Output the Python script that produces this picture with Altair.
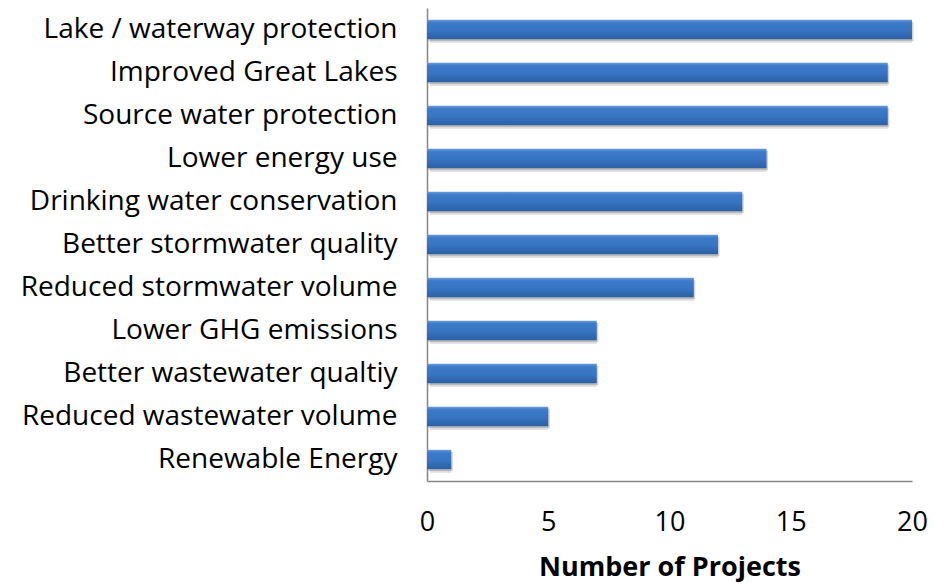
import altair as alt
import pandas as pd

# Project benefits and how many projects reported each
benefits = [
    "Lake / waterway protection",
    "Improved Great Lakes",
    "Source water protection",
    "Lower energy use",
    "Drinking water conservation",
    "Better stormwater quality",
    "Reduced stormwater volume",
    "Lower GHG emissions",
    "Better wastewater qualtiy",
    "Reduced wastewater volume",
    "Renewable Energy",
]
projects = [20, 19, 19, 14, 13, 12, 11, 7, 7, 5, 1]
x_ticks = [0, 5, 10, 15, 20]

df = pd.DataFrame({"benefit": benefits, "projects": projects})

FONT = "Open Sans"

y_enc = alt.Y(
    "benefit:N",
    sort=benefits,
    title=None,
    scale=alt.Scale(paddingInner=0.55, paddingOuter=0.275),
    axis=alt.Axis(
        labelFont=FONT,
        labelFontSize=28,
        labelColor="#000000",
        labelPadding=30,
        labelLimit=500,
        ticks=False,
        domainColor="#868686",
        domainWidth=1.5,
        grid=False,
    ),
)

x_enc = alt.X(
    "projects:Q",
    scale=alt.Scale(domain=[0, 20], nice=False),
    title="Number of Projects",
    axis=alt.Axis(
        values=x_ticks,
        labelFont=FONT,
        labelFontSize=27,
        labelColor="#000000",
        labelPadding=28,
        labelFlush=False,
        ticks=False,
        grid=False,
        domainColor="#868686",
        domainWidth=1.5,
        titleFont=FONT,
        titleFontSize=27,
        titleFontWeight="bold",
        titleColor="#000000",
        titlePadding=19,
    ),
)

# soft drop shadow under each bar
shadow_far = alt.Chart(df).mark_bar(
    color="#000000", opacity=0.10, xOffset=3, yOffset=4, cornerRadius=1
).encode(x=x_enc, y=y_enc)
shadow_near = alt.Chart(df).mark_bar(
    color="#000000", opacity=0.18, xOffset=1.5, yOffset=2
).encode(x=x_enc, y=y_enc)

bar_fill = alt.LinearGradient(
    gradient="linear",
    x1=0, x2=0, y1=0, y2=1,
    stops=[
        alt.GradientStop(color="#6a9bd9", offset=0.0),
        alt.GradientStop(color="#3d7bca", offset=0.15),
        alt.GradientStop(color="#3774c2", offset=0.55),
        alt.GradientStop(color="#2c60a3", offset=1.0),
    ],
)
bars = alt.Chart(df).mark_bar(color=bar_fill).encode(x=x_enc, y=y_enc)

chart = (
    alt.layer(shadow_far, shadow_near, bars)
    .properties(
        width=485,
        height=473,
        autosize=alt.AutoSizeParams(type="none"),
        padding={"left": 427, "top": 8, "right": 39, "bottom": 103},
        background="#ffffff",
    )
    .configure_view(stroke=None)
)

chart.save("out.html", embed_options={"renderer": "svg", "actions": False})
